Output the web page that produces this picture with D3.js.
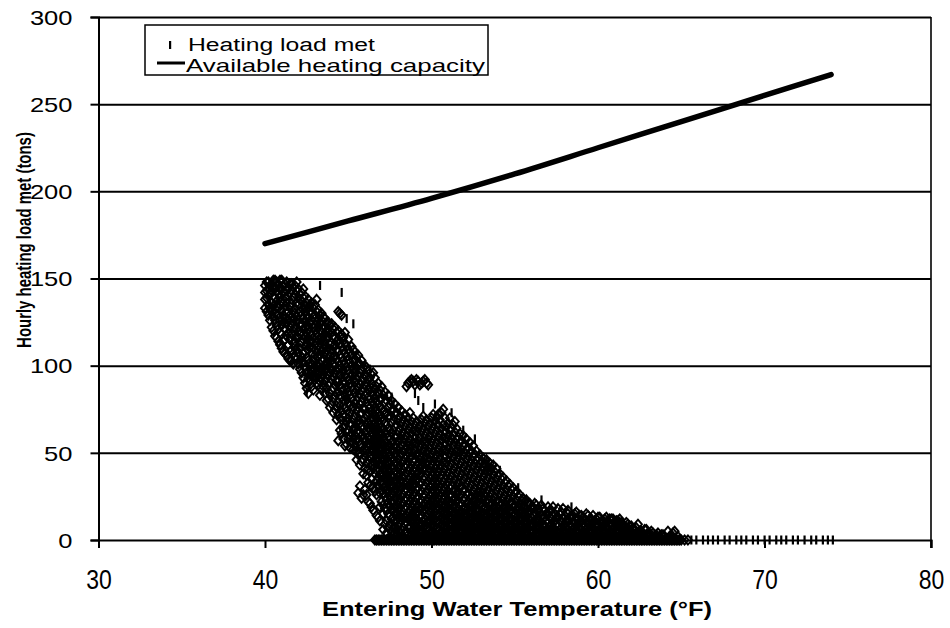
<!DOCTYPE html>
<html>
<head>
<meta charset="utf-8">
<script src="https://cdn.jsdelivr.net/npm/d3@7"></script>
<style>
  html, body { margin: 0; background: #fff; }
  text { font-family: "Liberation Sans", Arial, sans-serif; fill: #000; }
</style>
</head>
<body>
<svg id="chart" width="950" height="628"></svg>
<script>
// Axis ticks
const xTicks = [30, 40, 50, 60, 70, 80];
const yTicks = [0, 50, 100, 150, 200, 250, 300];

// Available heating capacity (tons) versus entering water temperature (°F)
const capacityTemps = [40, 45, 50, 55, 60, 65, 70, 74];
const capacityTons = [170, 183, 196, 210, 225, 240, 255, 267];

// Hourly heating load met (tons), grouped by entering water temperature (°F)
const loadMetCold = [
  [40.0, [133, 138, 142, 146]],
  [40.1, [131, 139, 143, 148]],
  [40.2, [129, 135, 140, 144, 148]],
  [40.3, [126, 133, 141, 146]],
  [40.4, [122, 131, 136, 143, 147]],
  [40.5, [120, 128, 134, 140, 145, 149]],
  [40.6, [117, 126, 130, 139, 145, 149]],
  [40.7, [116, 123, 134, 137, 143, 148]],
  [40.8, [114, 121, 129, 133, 141, 146]],
  [40.9, [112, 119, 126, 135, 139, 144, 149]],
  [41.0, [110, 118, 123, 132, 137, 144, 149]],
  [41.1, [108, 114, 125, 129, 136, 142, 146]],
  [41.2, [107, 115, 121, 127, 134, 139, 147]],
  [41.3, [106, 117, 124, 130, 136, 143, 148]],
  [41.4, [104, 112, 119, 126, 131, 140, 145]],
  [41.5, [103, 108, 115, 122, 129, 134, 142, 147]],
  [41.6, [103, 109, 118, 124, 128, 136, 143, 147]],
  [41.7, [101, 107, 113, 120, 127, 131, 139, 145]],
  [41.8, [105, 111, 114, 122, 130, 133, 141, 146]],
  [41.9, [104, 109, 117, 125, 128, 136, 143, 148]],
  [42.0, [101, 107, 116, 120, 126, 135, 139, 144]],
  [42.1, [98, 103, 110, 118, 123, 131, 138, 141]],
  [42.2, [96, 105, 113, 119, 124, 129, 137, 142]],
  [42.3, [93, 102, 107, 115, 121, 127, 132, 139, 144]],
  [42.4, [90, 99, 108, 111, 117, 125, 131, 134, 140]],
  [42.5, [87, 96, 105, 113, 119, 123, 129, 136]],
  [42.6, [84, 93, 103, 109, 116, 121, 127, 133, 138]],
  [42.7, [91, 95, 100, 111, 114, 119, 124, 131, 135]],
  [42.8, [88, 97, 101, 107, 114, 118, 126, 130, 136]],
  [42.9, [86, 94, 99, 103, 110, 116, 122, 128, 133]],
  [43.0, [92, 96, 104, 106, 112, 120, 123, 129, 135]],
  [43.1, [90, 93, 101, 108, 113, 118, 125, 131, 138]],
  [43.2, [89, 95, 99, 105, 111, 115, 122, 127, 132]],
  [43.3, [83, 91, 96, 101, 106, 113, 120, 124, 129]],
  [43.4, [86, 93, 98, 103, 108, 116, 119, 126, 130]],
  [43.5, [88, 95, 99, 104, 110, 114, 121, 128]],
  [43.6, [84, 91, 97, 100, 107, 112, 118, 122, 127]],
  [43.7, [80, 87, 93, 98, 102, 109, 115, 120, 124]],
  [43.8, [81, 89, 95, 101, 104, 110, 117, 121, 125]],
  [43.9, [76, 84, 90, 96, 99, 106, 112, 118, 123]],
  [44.0, [78, 86, 92, 97, 103, 109, 113, 119, 124]],
  [44.1, [73, 81, 87, 94, 101, 105, 111, 117, 121]],
  [44.2, [75, 83, 89, 96, 100, 106, 112, 116, 122]],
  [44.3, [69, 77, 84, 91, 97, 104, 109, 114, 119]],
  [44.4, [57, 72, 79, 85, 91, 98, 102, 108, 115, 120, 131]],
  [44.5, [63, 70, 77, 83, 89, 95, 100, 106, 113, 117, 130]],
  [44.6, [61, 69, 74, 82, 87, 93, 99, 105, 111, 118, 129]],
  [44.7, [58, 64, 72, 80, 86, 91, 97, 103, 109, 116]],
  [44.8, [54, 66, 71, 76, 83, 90, 94, 101, 107, 113, 119]],
  [44.9, [55, 62, 68, 74, 81, 87, 93, 99, 105, 111]],
  [45.0, [58, 63, 70, 79, 85, 92, 97, 103, 109, 115]],
  [45.1, [53, 60, 67, 73, 77, 83, 90, 96, 102, 108]],
  [45.2, [56, 61, 66, 75, 81, 88, 95, 100, 106, 111]],
  [45.3, [52, 58, 63, 69, 76, 86, 92, 98, 103, 109]],
  [45.4, [54, 60, 64, 71, 78, 84, 90, 96, 104, 108]],
  [45.5, [46, 51, 57, 62, 67, 74, 80, 86, 92, 99, 105]],
  [45.6, [27, 49, 58, 63, 69, 76, 82, 87, 94, 101, 106]],
  [45.7, [31, 43, 50, 55, 62, 67, 72, 78, 84, 89, 96, 101]],
  [45.8, [24, 45, 53, 60, 65, 73, 79, 86, 91, 98, 103]],
  [45.9, [26, 38, 46, 51, 58, 64, 69, 76, 81, 87, 93, 99]],
  [46.0, [29, 41, 48, 57, 62, 70, 75, 83, 89, 95, 100]]
];

const loadMetMild = [
  [46.1, [26, 37, 44, 52, 57, 63, 66, 71, 79, 84, 88, 94, 99]],
  [46.2, [22, 33, 41, 46, 50, 55, 59, 64, 68, 73, 77, 82, 86, 92, 97]],
  [46.3, [21, 31, 39, 48, 54, 58, 66, 69, 76, 81, 88, 93]],
  [46.4, [19, 35, 43, 47, 52, 56, 61, 65, 70, 74, 79, 84, 90, 95]],
  [46.5, [17, 30, 41, 45, 51, 55, 60, 64, 69, 73, 78, 83, 88, 96]],
  [46.6, [0, 28, 38, 44, 49, 53, 58, 62, 67, 71, 76, 81, 86, 93]],
  [46.7, [0, 14, 26, 34, 40, 47, 51, 56, 60, 65, 70, 74, 79, 83, 88]],
  [46.8, [0, 13, 31, 36, 41, 45, 50, 54, 59, 63, 68, 73, 78, 84, 90]],
  [46.9, [0, 11, 19, 27, 33, 38, 43, 48, 52, 57, 61, 66, 71, 76, 81, 86]],
  [47.0, [0, 22, 29, 34, 38, 43, 47, 52, 56, 61, 65, 70, 75, 81, 88]],
  [47.1, [0, 6, 15, 20, 27, 32, 37, 41, 46, 50, 55, 59, 64, 69, 74, 83]],
  [47.2, [0, 9, 18, 25, 30, 35, 39, 44, 48, 53, 57, 62, 67, 72, 79, 85]],
  [47.3, [0, 4, 11, 17, 23, 29, 34, 38, 43, 47, 52, 56, 61, 66, 73, 80]],
  [47.4, [0, 7, 15, 21, 27, 32, 36, 41, 45, 50, 54, 59, 64, 70, 76, 83]],
  [47.5, [0, 2, 9, 14, 19, 25, 30, 34, 39, 44, 48, 53, 58, 63, 71, 78]],
  [47.6, [0, 5, 12, 17, 22, 27, 32, 37, 42, 47, 52, 56, 61, 67, 74, 80]],
  [47.7, [0, 3, 7, 13, 17, 21, 26, 31, 36, 41, 46, 51, 57, 63, 69, 75]],
  [47.8, [0, 4, 10, 15, 19, 24, 29, 34, 39, 44, 49, 54, 59, 65, 72, 78]],
  [47.9, [0, 2, 6, 11, 15, 19, 24, 29, 34, 38, 43, 48, 53, 59, 66, 73]],
  [48.0, [0, 3, 8, 13, 17, 22, 27, 32, 36, 41, 46, 51, 56, 62, 69, 76]],
  [48.1, [0, 5, 10, 14, 19, 24, 29, 34, 38, 43, 48, 53, 58, 64, 71]],
  [48.2, [0, 2, 6, 11, 15, 20, 25, 30, 34, 39, 44, 49, 54, 60, 67, 74]],
  [48.3, [0, 2, 7, 12, 16, 21, 26, 31, 36, 40, 45, 51, 56, 62, 69]],
  [48.4, [0, 4, 9, 13, 18, 23, 28, 32, 37, 42, 47, 52, 58, 65, 72]],
  [48.5, [0, 5, 10, 14, 19, 24, 29, 33, 38, 43, 48, 53, 60, 67, 88]],
  [48.6, [0, 3, 7, 12, 16, 21, 26, 31, 35, 40, 45, 50, 56, 63, 70, 90]],
  [48.7, [0, 2, 7, 12, 17, 22, 27, 31, 36, 41, 47, 52, 58, 65, 73, 91]],
  [48.8, [0, 5, 10, 14, 19, 24, 29, 33, 38, 43, 48, 54, 61, 68, 92]],
  [48.9, [0, 2, 6, 11, 16, 21, 26, 31, 35, 40, 45, 50, 56, 63, 70, 91]],
  [49.0, [0, 4, 8, 13, 17, 22, 27, 32, 36, 41, 46, 52, 59, 66, 89]],
  [49.1, [0, 6, 10, 15, 19, 24, 29, 34, 38, 43, 49, 55, 62, 68, 92]],
  [49.2, [0, 3, 7, 11, 16, 20, 25, 30, 35, 39, 44, 50, 57, 64, 91]],
  [49.3, [0, 2, 5, 9, 13, 18, 22, 27, 32, 37, 41, 46, 53, 59, 66, 89]],
  [49.4, [0, 5, 9, 14, 18, 23, 28, 33, 38, 43, 48, 55, 62, 69, 90]],
  [49.5, [0, 2, 7, 11, 16, 20, 25, 30, 35, 40, 45, 51, 57, 64, 71, 91]],
  [49.6, [0, 4, 8, 12, 17, 21, 26, 31, 36, 41, 47, 53, 60, 67, 92]],
  [49.7, [0, 2, 6, 10, 14, 19, 23, 28, 33, 38, 44, 50, 56, 62, 69, 90]],
  [49.8, [0, 3, 7, 11, 15, 20, 24, 29, 34, 39, 45, 51, 58, 65, 89]],
  [49.9, [0, 2, 6, 11, 16, 20, 25, 30, 35, 40, 46, 53, 60, 67]],
  [50.0, [0, 5, 9, 13, 18, 22, 27, 32, 37, 43, 49, 56, 63, 70]],
  [50.1, [0, 2, 7, 11, 15, 19, 24, 29, 34, 39, 45, 51, 58, 65, 72]],
  [50.2, [0, 4, 8, 12, 16, 21, 25, 30, 35, 41, 47, 54, 61, 68]],
  [50.3, [0, 2, 6, 10, 14, 18, 22, 27, 32, 37, 43, 49, 56, 63, 70]],
  [50.4, [0, 3, 7, 11, 15, 19, 24, 29, 34, 39, 45, 52, 59, 66, 72]],
  [50.5, [0, 2, 6, 10, 14, 18, 21, 26, 31, 36, 41, 47, 54, 61, 69]],
  [50.6, [0, 5, 9, 13, 17, 22, 27, 32, 37, 43, 50, 57, 64, 73]],
  [50.7, [0, 2, 7, 11, 15, 19, 23, 28, 33, 39, 45, 52, 59, 66, 75]],
  [50.8, [0, 4, 8, 12, 16, 20, 25, 30, 35, 41, 48, 55, 62, 70]],
  [50.9, [0, 2, 6, 10, 14, 18, 22, 27, 32, 37, 44, 51, 58, 65]],
  [51.0, [0, 3, 7, 11, 15, 19, 23, 28, 33, 39, 46, 53, 60, 67]],
  [51.1, [0, 2, 5, 9, 13, 17, 21, 26, 30, 35, 42, 49, 56, 63, 70]],
  [51.2, [0, 5, 9, 13, 17, 21, 26, 31, 37, 44, 51, 58, 64]],
  [51.3, [0, 2, 7, 11, 15, 19, 23, 28, 33, 40, 47, 54, 60, 66]],
  [51.4, [0, 4, 8, 12, 16, 20, 24, 29, 35, 42, 49, 56, 62, 68]],
  [51.5, [0, 2, 6, 9, 13, 17, 22, 26, 31, 38, 45, 51, 58, 64]],
  [51.6, [0, 3, 7, 11, 14, 18, 23, 28, 33, 40, 47, 54, 59]],
  [51.7, [0, 2, 5, 9, 13, 16, 20, 25, 30, 36, 43, 50, 56, 61]],
  [51.8, [0, 5, 9, 12, 16, 21, 26, 31, 38, 45, 52, 57]],
  [51.9, [0, 2, 7, 10, 14, 18, 23, 28, 34, 41, 48, 54, 60]],
  [52.0, [0, 4, 8, 11, 15, 19, 24, 29, 36, 43, 50, 55]],
  [52.1, [0, 2, 6, 9, 13, 17, 21, 26, 32, 39, 46, 52, 58]],
  [52.2, [0, 3, 7, 10, 14, 18, 22, 27, 34, 41, 48, 53]],
  [52.3, [0, 2, 5, 9, 12, 16, 20, 24, 30, 37, 44, 50, 56]],
  [52.4, [0, 5, 8, 12, 16, 20, 25, 32, 39, 46, 51]],
  [52.5, [0, 2, 6, 10, 14, 18, 22, 28, 35, 42, 48, 54]],
  [52.6, [0, 4, 7, 11, 15, 19, 24, 30, 37, 44, 49]],
  [52.7, [0, 2, 5, 9, 13, 17, 21, 26, 33, 40, 46, 51]],
  [52.8, [0, 3, 6, 10, 13, 17, 22, 28, 35, 42, 47]],
  [52.9, [0, 2, 5, 8, 12, 15, 20, 25, 31, 38, 44, 49]],
  [53.0, [0, 5, 9, 12, 16, 21, 27, 33, 40, 45]],
  [53.1, [0, 2, 7, 10, 14, 18, 23, 29, 36, 42, 47]],
  [53.2, [0, 4, 8, 11, 15, 19, 25, 31, 38, 44]],
  [53.3, [0, 2, 6, 9, 13, 17, 22, 27, 34, 40, 46]],
  [53.4, [0, 3, 7, 10, 14, 18, 23, 29, 36, 42]],
  [53.5, [0, 2, 5, 9, 12, 16, 20, 25, 32, 39, 44]],
  [53.6, [0, 5, 8, 12, 16, 21, 27, 34, 41]],
  [53.7, [0, 2, 6, 10, 14, 18, 23, 30, 37, 43]],
  [53.8, [0, 4, 7, 11, 15, 20, 25, 32, 39]],
  [53.9, [0, 2, 5, 9, 13, 17, 22, 28, 35, 41]],
  [54.0, [0, 3, 6, 10, 14, 18, 23, 30, 37]],
  [54.1, [0, 2, 5, 8, 12, 16, 20, 26, 33, 38]],
  [54.2, [0, 5, 8, 12, 16, 21, 28, 35]],
  [54.3, [0, 2, 6, 10, 14, 18, 24, 31, 36]],
  [54.4, [0, 4, 7, 11, 15, 20, 26, 33]],
  [54.5, [0, 2, 5, 9, 13, 17, 22, 29, 34]],
  [54.6, [0, 3, 6, 10, 14, 18, 24, 31]],
  [54.7, [0, 2, 5, 8, 12, 16, 21, 27, 32]],
  [54.8, [0, 5, 8, 12, 17, 22, 29]],
  [54.9, [0, 2, 6, 10, 14, 19, 25, 30]],
  [55.0, [0, 4, 7, 11, 15, 20, 27]],
  [55.1, [0, 2, 5, 9, 13, 17, 23, 28]],
  [55.2, [0, 3, 6, 10, 14, 19, 25]],
  [55.3, [0, 2, 5, 8, 12, 16, 21, 26]],
  [55.4, [0, 5, 8, 12, 17, 23]],
  [55.5, [0, 2, 6, 10, 14, 19, 24]],
  [55.6, [0, 4, 7, 11, 16, 22]],
  [55.7, [0, 2, 5, 9, 13, 18, 23]],
  [55.8, [0, 3, 6, 10, 15, 21]],
  [55.9, [0, 2, 5, 8, 12, 17, 21]],
  [56.0, [0, 5, 9, 13, 19]]
];

const loadMetWarm = [
  [56.1, [0, 2, 5, 9, 14, 19]],
  [56.2, [0, 3, 7, 11, 16, 21]],
  [56.3, [0, 2, 6, 10, 15, 20]],
  [56.4, [0, 4, 8, 12, 18]],
  [56.5, [0, 3, 7, 11, 16]],
  [56.6, [0, 2, 6, 10, 14, 20]],
  [56.7, [0, 2, 5, 9, 12, 18]],
  [56.8, [0, 4, 8, 13, 17]],
  [56.9, [0, 2, 6, 11, 15]],
  [57.0, [0, 3, 6, 10, 15, 19]],
  [57.1, [0, 2, 5, 8, 13, 17]],
  [57.2, [0, 5, 9, 12, 17]],
  [57.3, [0, 3, 7, 10, 14, 19]],
  [57.4, [0, 2, 6, 11, 15]],
  [57.5, [0, 2, 5, 9, 13]],
  [57.6, [0, 4, 8, 13, 18]],
  [57.7, [0, 2, 6, 11, 15]],
  [57.8, [0, 3, 7, 10, 16]],
  [57.9, [0, 2, 5, 8, 12, 18]],
  [58.0, [0, 5, 9, 14]],
  [58.1, [0, 3, 7, 11, 16]],
  [58.2, [0, 2, 6, 11, 15, 17]],
  [58.3, [0, 2, 5, 9, 13]],
  [58.4, [0, 4, 8, 13]],
  [58.5, [0, 2, 6, 10, 14]],
  [58.6, [0, 3, 7, 10, 15]],
  [58.7, [0, 2, 5, 8, 12, 16]],
  [58.8, [0, 5, 9, 12]],
  [58.9, [0, 3, 7, 10, 14]],
  [59.0, [0, 2, 6, 11, 14]],
  [59.1, [0, 2, 5, 9, 13]],
  [59.2, [0, 4, 8, 12]],
  [59.3, [0, 2, 6, 10, 15]],
  [59.4, [0, 3, 7, 10, 14]],
  [59.5, [0, 2, 5, 8, 12]],
  [59.6, [0, 5, 9, 12]],
  [59.7, [0, 3, 7, 10, 14]],
  [59.8, [0, 2, 6, 11]],
  [59.9, [0, 2, 5, 9, 12]],
  [60.0, [0, 4, 8, 13]],
  [60.1, [0, 2, 6, 10, 13]],
  [60.2, [0, 3, 7, 10]],
  [60.3, [0, 2, 5, 8, 11]],
  [60.4, [0, 5, 9, 12]],
  [60.5, [0, 3, 7, 10, 13]],
  [60.6, [0, 2, 6, 11]],
  [60.7, [0, 2, 5, 9, 12]],
  [60.8, [0, 4, 8, 12]],
  [60.9, [0, 2, 6, 9, 12]],
  [61.0, [0, 3, 7, 10]],
  [61.1, [0, 2, 5, 8, 11]],
  [61.2, [0, 5, 9, 11]],
  [61.3, [0, 3, 7, 9, 12]],
  [61.4, [0, 2, 6, 10]],
  [61.5, [0, 2, 5, 8]],
  [61.6, [0, 4, 8]],
  [61.7, [0, 2, 6, 10]],
  [61.8, [0, 3, 7, 9]],
  [61.9, [0, 2, 5, 8]],
  [62.0, [0, 5, 8]],
  [62.1, [0, 3, 6]],
  [62.2, [0, 2, 6]],
  [62.3, [0, 2, 4, 7]],
  [62.4, [0, 4, 9]],
  [62.5, [0, 2, 5]],
  [62.6, [0, 3, 5]],
  [62.7, [0, 2, 4]],
  [62.8, [0, 2, 6]],
  [62.9, [0, 3, 6]],
  [63.0, [0, 4]],
  [63.1, [0, 2]],
  [63.2, [0, 3, 5]],
  [63.3, [0, 4]],
  [63.4, [0, 2]],
  [63.5, [0, 3]],
  [63.6, [0, 4]],
  [63.7, [0, 2]],
  [63.8, [0, 3]],
  [63.9, [0, 3]],
  [64.0, [0, 2]],
  [64.1, [0]],
  [64.2, [0, 5]],
  [64.3, [0, 2]],
  [64.4, [0, 3]],
  [64.5, [0, 4]],
  [64.6, [0, 5]],
  [64.7, [0]],
  [64.8, [0, 2]],
  [64.9, [0]],
  [65.0, [0]],
  [65.2, [0]],
  [65.4, [0]]
];

// Hours logged with the short dash marker
const loadMetDashes = [
  [40.3, 137], [40.6, 135], [41.1, 111], [42.5, 85], [43.3, 146], [44.6, 142],
  [44.9, 127], [45.3, 124], [46.3, 98], [47.6, 82], [49.0, 84], [49.2, 80],
  [49.5, 76], [50.2, 78], [51.2, 73], [51.9, 63], [52.6, 58], [53.4, 45],
  [54.1, 40], [55.2, 30], [56.6, 23], [58.4, 19]
];
// Warm-water hours with no heating load
const zeroLoadTemps = [
  65.6, 65.9, 66.3, 66.6, 66.9, 67.2, 67.6, 67.9, 68.3, 68.6, 68.9, 69.3, 69.6,
  70.0, 70.3, 70.7, 71.0, 71.3, 71.7, 72.0, 72.4, 72.8, 73.1, 73.5, 73.8, 74.1
];

const svg = d3.select("#chart");
const plotLeft = 98.5, plotRight = 931, plotTop = 17, plotBottom = 540;
const x = d3.scaleLinear().domain([30, 80]).range([plotLeft, plotRight]);
const y = d3.scaleLinear().domain([0, 300]).range([plotBottom, plotTop]);

// Stretch a text horizontally about its anchor so it spans the given width
function stretchTo(sel, width) {
  sel.each(function (d, i) {
    const w = typeof width === "function" ? width(d, i) : width;
    const natural = this.getComputedTextLength();
    const ax = +(this.getAttribute("x") || 0);
    const prev = this.getAttribute("transform") || "";
    this.setAttribute("x", 0);
    this.setAttribute("transform", `${prev} translate(${ax},0) scale(${w / natural},1)`);
  });
}

// Horizontal gridlines
svg.append("g")
  .attr("transform", `translate(${plotLeft},0)`)
  .call(d3.axisLeft(y).tickValues(yTicks.filter(v => v > 0)).tickSize(-(plotRight - plotLeft)).tickFormat(""))
  .call(g => g.select(".domain").remove())
  .call(g => g.selectAll("line").attr("stroke", "#000").attr("stroke-width", 2));

// Right border of the plot area
svg.append("line")
  .attr("x1", plotRight).attr("x2", plotRight).attr("y1", plotTop).attr("y2", plotBottom + 8)
  .attr("stroke", "#000").attr("stroke-width", 1.6);

// Scatter of hourly loads
const rows = loadMetCold.concat(loadMetMild, loadMetWarm);
const points = rows.flatMap(([t, loads]) => loads.map(l => ({ t, l })));
const diamond = "M0,-4.6L4,0L0,4.6L-4,0Z";
const scatter = svg.append("g");
scatter.selectAll("path.pt").data(points).join("path")
  .attr("class", "pt")
  .attr("d", diamond)
  .attr("transform", d => `translate(${x(d.t)},${y(d.l)})`)
  .attr("fill", "none").attr("stroke", "#000").attr("stroke-width", 1.9);

const dashPts = loadMetDashes.map(([t, l]) => ({ t, l }))
  .concat(zeroLoadTemps.map(t => ({ t, l: 0 })));
scatter.selectAll("rect.dash").data(dashPts).join("rect")
  .attr("class", "dash")
  .attr("x", d => x(d.t) - 1).attr("y", d => y(d.l) - 4.5)
  .attr("width", 2.2).attr("height", 9).attr("fill", "#000");

// Available heating capacity line
const capacity = capacityTemps.map((t, i) => [t, capacityTons[i]]);
svg.append("path")
  .datum(capacity)
  .attr("d", d3.line().x(d => x(d[0])).y(d => y(d[1])).curve(d3.curveMonotoneX))
  .attr("fill", "none").attr("stroke", "#000").attr("stroke-width", 5.5)
  .attr("stroke-linecap", "round");

// Y axis
const yAxis = svg.append("g")
  .attr("transform", `translate(${plotLeft},0)`)
  .call(d3.axisLeft(y).tickValues(yTicks).tickSize(8).tickPadding(18));
yAxis.select(".domain").attr("stroke", "#000").attr("stroke-width", 2);
yAxis.selectAll("line").attr("stroke", "#000").attr("stroke-width", 2);
yAxis.selectAll("text")
  .style("font-family", "'Liberation Sans', Arial, sans-serif").style("font-size", "20px")
  .attr("fill", "#000").attr("dy", "0.36em")
  .call(stretchTo, d => String(d).length * 14.2);

// X axis
const xAxis = svg.append("g")
  .attr("transform", `translate(0,${plotBottom})`)
  .call(d3.axisBottom(x).tickValues(xTicks).tickSize(8).tickPadding(21));
xAxis.select(".domain").attr("stroke", "#000").attr("stroke-width", 2);
xAxis.selectAll("line").attr("stroke", "#000").attr("stroke-width", 2);
xAxis.selectAll("text")
  .style("font-family", "'Liberation Sans', Arial, sans-serif").style("font-size", "28px")
  .attr("fill", "#000").attr("dy", "0.71em")
  .call(stretchTo, d => String(d).length * 12.8);

// Axis titles
svg.append("text")
  .attr("x", 517).attr("y", 616)
  .attr("text-anchor", "middle").style("font-size", "21px").attr("font-weight", "bold")
  .text("Entering Water Temperature (°F)")
  .call(stretchTo, 390);
svg.append("text")
  .attr("transform", "translate(31,240) rotate(-90)")
  .attr("text-anchor", "middle").style("font-size", "20px").attr("font-weight", "bold")
  .text("Hourly heating load met (tons)")
  .call(stretchTo, 216);

// Legend
const legend = svg.append("g");
legend.append("rect")
  .attr("x", 145).attr("y", 25).attr("width", 343).attr("height", 50)
  .attr("fill", "#fff").attr("stroke", "#000").attr("stroke-width", 1.5);
legend.append("rect")
  .attr("x", 169).attr("y", 41).attr("width", 2.2).attr("height", 8).attr("fill", "#000");
legend.append("text")
  .attr("x", 188).attr("y", 51).style("font-size", "19px")
  .text("Heating load met")
  .call(stretchTo, 187);
legend.append("line")
  .attr("x1", 157).attr("x2", 185).attr("y1", 63).attr("y2", 63)
  .attr("stroke", "#000").attr("stroke-width", 3);
legend.append("text")
  .attr("x", 186).attr("y", 72).style("font-size", "19px")
  .text("Available heating capacity")
  .call(stretchTo, 299);
</script>
</body>
</html>
